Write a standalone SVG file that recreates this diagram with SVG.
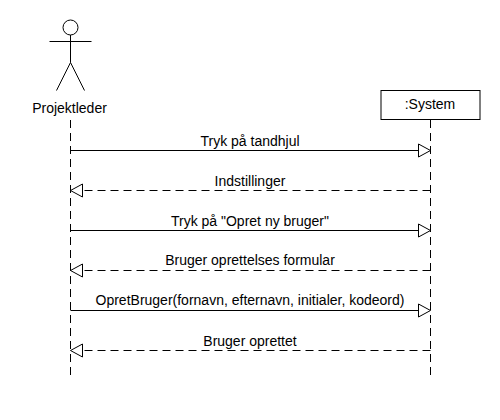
<svg xmlns="http://www.w3.org/2000/svg" width="500" height="420" viewBox="0 0 500 420">
<style>
.l{fill:none;stroke:#000;stroke-width:1}
.d{stroke-dasharray:8 5}
.h{fill:#fff;stroke:#000;stroke-width:1}
text{font-family:"Liberation Sans",Arial,sans-serif;font-size:14px;fill:#000;text-anchor:middle}
</style>
<defs>
<path id="r" class="h" d="M418.500 144 L430.500 150.500 L418.500 157 Z"/>
<path id="lh" class="h" d="M82.500 144 L70.500 150.500 L82.500 157 Z"/>
</defs>
<g id="projektleder">
<circle class="l" cx="70.500" cy="27.500" r="7.500"/>
<path class="l" d="M70.500 35 V62.500 M49.500 41.500 H91.500 M56.500 90.500 L70.500 62.500 L84.500 90.500"/>
<text x="69.500" y="113">Projektleder</text>
</g>
<g id="system">
<rect class="h" x="381" y="90.500" width="99" height="29"/>
<text x="430" y="109">:System</text>
</g>
<g id="connectors">
<path class="l d" d="M70.500 120 V376"/>
<path class="l d" d="M430.500 120 V376"/>
<path class="l" d="M70.500 150.500 H419"/><use href="#r"/>
<path class="l d" d="M430.500 190.500 H82"/><use href="#lh" y="40"/>
<path class="l" d="M70.500 230.500 H419"/><use href="#r" y="80"/>
<path class="l d" d="M430.500 270.500 H82"/><use href="#lh" y="120"/>
<path class="l" d="M70.500 310.500 H419"/><use href="#r" y="160"/>
<path class="l d" d="M430.500 350.500 H82"/><use href="#lh" y="200"/>
<text x="250" y="146">Tryk på tandhjul</text>
<text x="250" y="186">Indstillinger</text>
<text x="250" y="226">Tryk på "Opret ny bruger"</text>
<text x="250" y="265">Bruger oprettelses formular</text>
<text x="250" y="305">OpretBruger(fornavn, efternavn, initialer, kodeord)</text>
<text x="250" y="346">Bruger oprettet</text>
</g>
</svg>
